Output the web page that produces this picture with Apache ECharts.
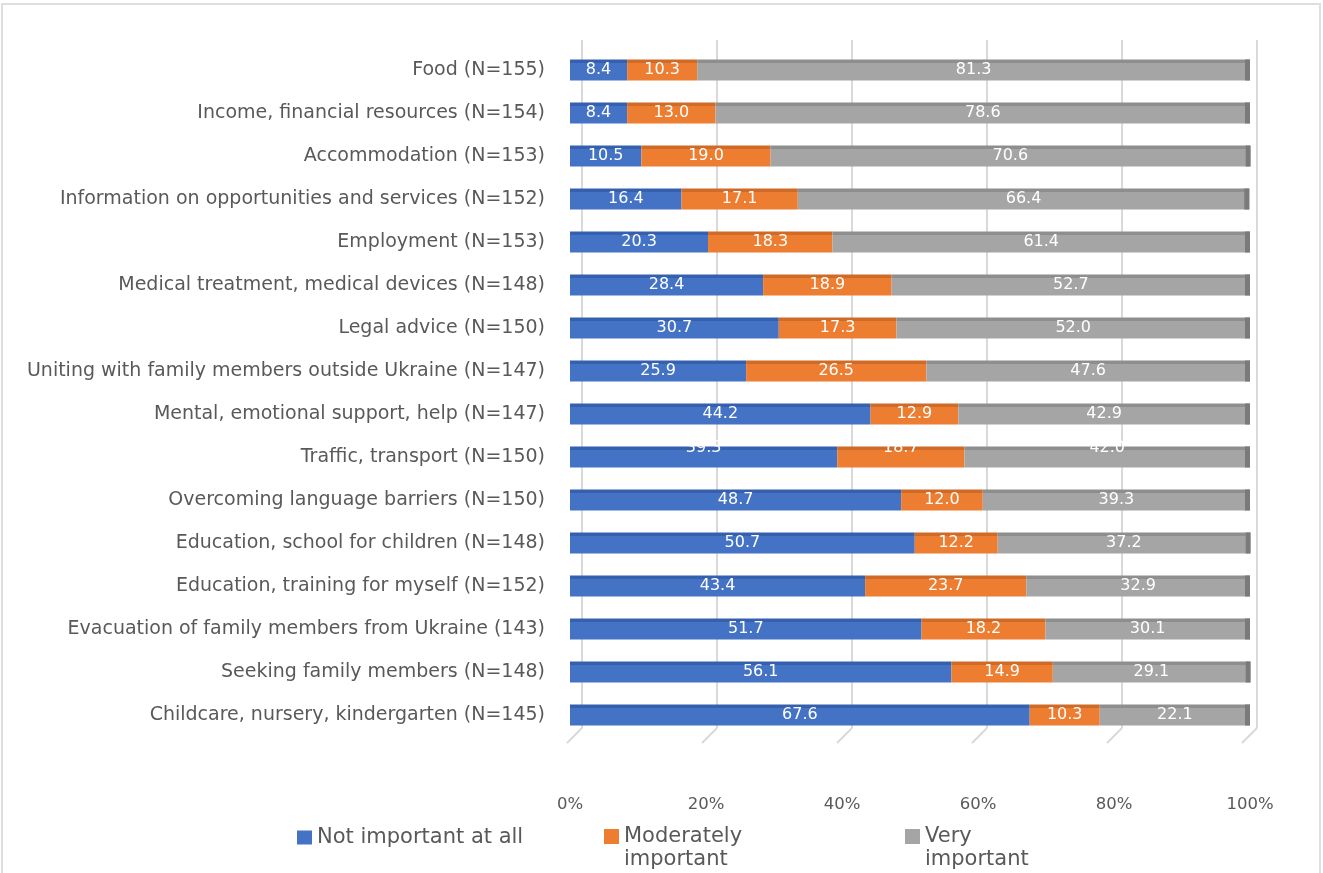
<!DOCTYPE html>
<html><head><meta charset="utf-8">
<script src="https://cdn.jsdelivr.net/npm/echarts@6/dist/echarts.min.js"></script>
<style>
html,body{margin:0;padding:0;background:#fff;}
#wrap{position:relative;width:1323px;height:873px;}
#chart{position:absolute;left:0;top:0;width:1323px;height:873px;}
#frame{position:absolute;left:1px;top:3px;width:1320px;height:880px;border:2px solid #dedede;pointer-events:none;box-sizing:border-box;}
</style></head>
<body><div id="wrap"><div id="chart"></div><div id="frame"></div></div>
<script>
const categories = [
  "Food (N=155)",
  "Income, financial resources (N=154)",
  "Accommodation (N=153)",
  "Information on opportunities and services (N=152)",
  "Employment (N=153)",
  "Medical treatment, medical devices (N=148)",
  "Legal advice (N=150)",
  "Uniting with family members outside Ukraine (N=147)",
  "Mental, emotional support, help (N=147)",
  "Traffic, transport (N=150)",
  "Overcoming language barriers (N=150)",
  "Education, school for children (N=148)",
  "Education, training for myself (N=152)",
  "Evacuation of family members from Ukraine (143)",
  "Seeking family members (N=148)",
  "Childcare, nursery, kindergarten (N=145)"
];
const seriesNames = ["Not important at all", "Moderately important", "Very important"];
const legendLabels = ["Not important at all", "Moderately\nimportant", "Very\nimportant"];
const notImportant = [8.4, 8.4, 10.5, 16.4, 20.3, 28.4, 30.7, 25.9, 44.2, 39.3, 48.7, 50.7, 43.4, 51.7, 56.1, 67.6];
const moderately   = [10.3, 13.0, 19.0, 17.1, 18.3, 18.9, 17.3, 26.5, 12.9, 18.7, 12.0, 12.2, 23.7, 18.2, 14.9, 10.3];
const veryImportant= [81.3, 78.6, 70.6, 66.4, 61.4, 52.7, 52.0, 47.6, 42.9, 42.0, 39.3, 37.2, 32.9, 30.1, 29.1, 22.1];
const xTicks = [0, 20, 40, 60, 80, 100];

const FONT = "DejaVu Sans";
const colors = ["#4472C4", "#ED7D31", "#A5A5A5"];
const topColors = ["#3560AE", "#CF6A27", "#8E8E8E"];
function fillFor(i){
  return {type:'linear',x:0,y:0,x2:0,y2:1,colorStops:[
    {offset:0,color:topColors[i]},{offset:0.18,color:topColors[i]},
    {offset:0.18,color:colors[i]},{offset:1,color:colors[i]}]};
}
const valueSets = [notImportant, moderately, veryImportant];
const barSeries = valueSets.map((vals, si) => ({
  name: seriesNames[si], type:'bar', stack:'total', xAxisIndex:0, yAxisIndex:0,
  barWidth: 21,
  itemStyle:{color: fillFor(si)},
  label:{show:true, position:'inside', color:'#fff', fontFamily:FONT, fontSize:16,
         formatter: p => Number(p.value).toFixed(1)},
  data: vals.map((v, i) => i === 9 ? {value:v, label:{offset:[0,-9]}} : v),
  z: 3
}));
const totals = categories.map((c,i)=> notImportant[i]+moderately[i]+veryImportant[i]);

// square icon sitting at the top of a taller box, so it lines up with the first text line
const topSquareIcon = 'path://M0,0H10V10H0Z M0,25.3L0.01,25.3L0.01,25.31Z';
const legTxt = {color:'#595959', fontFamily:FONT, fontSize:21, lineHeight:23};

const chart = echarts.init(document.getElementById('chart'), null, {renderer:'canvas'});
chart.setOption({
  animation:false,
  backgroundColor:'#fff',
  color: colors,
  grid:[
    {left:570, right:73, top:48.5, bottom:136.5},
    {left:582, right:66, top:40, bottom:145}
  ],
  xAxis:[
    {gridIndex:0, type:'value', min:0, max:100, interval:20,
     axisLine:{show:false}, axisTick:{show:false}, splitLine:{show:false},
     axisLabel:{margin:60, color:'#595959', fontFamily:FONT, fontSize:16.5, formatter:'{value}%'}},
    {gridIndex:1, type:'value', min:0, max:100, interval:20,
     axisLine:{show:false}, axisTick:{show:false}, axisLabel:{show:false},
     splitLine:{show:true, lineStyle:{color:'#d9d9d9', width:2}}}
  ],
  yAxis:[
    {gridIndex:0, type:'category', data:categories, inverse:true,
     axisLine:{show:false}, axisTick:{show:false},
     axisLabel:{margin:25, color:'#595959', fontFamily:FONT, fontSize:19}},
    {gridIndex:1, type:'value', min:0, max:1, show:false}
  ],
  legend:[
    {data:[{name:seriesNames[0], itemStyle:{color:colors[0]}}], left:297, top:826, padding:0, itemWidth:15, itemHeight:14,
     icon:'rect', formatter:()=>legendLabels[0], textStyle:legTxt},
    {data:[{name:seriesNames[1], itemStyle:{color:colors[1]}}], left:604, top:825, padding:0, itemWidth:15, itemHeight:38,
     icon: topSquareIcon, formatter:()=>legendLabels[1], textStyle:legTxt},
    {data:[{name:seriesNames[2], itemStyle:{color:colors[2]}}], left:905, top:825, padding:0, itemWidth:15, itemHeight:38,
     icon: topSquareIcon, formatter:()=>legendLabels[2], textStyle:legTxt}
  ],
  series:[
    {type:'custom', xAxisIndex:1, yAxisIndex:1, silent:true, z:1,
     data: xTicks.map(t=>[t,0]),
     renderItem:(params, api)=>{
       const p = api.coord([api.value(0), api.value(1)]);
       return {type:'line', shape:{x1:p[0], y1:p[1], x2:p[0]-15, y2:p[1]+15},
               style:{stroke:'#d9d9d9', lineWidth:2}};
     }},
    ...barSeries,
    {type:'custom', xAxisIndex:0, yAxisIndex:0, silent:true, z:4,
     data: totals.map((t,i)=>[t,i]),
     renderItem:(params, api)=>{
       const p = api.coord([api.value(0), api.value(1)]);
       return {type:'rect', shape:{x:p[0]-5, y:p[1]-10.5, width:5, height:21},
               style:{fill:'#7a7a7a'}};
     }}
  ]
});
</script></body></html>
